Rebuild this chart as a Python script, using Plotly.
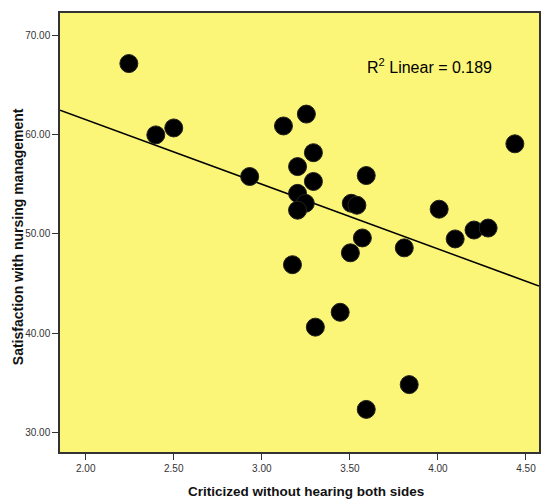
import numpy as np
import plotly.graph_objects as go

# Data
criticized = [2.245, 2.398, 2.500, 2.931, 3.123, 3.253, 3.203, 3.293, 3.293, 3.203,
              3.247, 3.203, 3.508, 3.540, 3.593, 3.174, 3.503, 3.571, 3.304, 3.445,
              3.809, 4.007, 4.098, 4.205, 4.285, 4.437, 3.837, 3.593]
satisfaction = [67.2, 60.0, 60.7, 55.8, 60.9, 62.1, 56.8, 58.2, 55.3, 54.1,
                53.1, 52.4, 53.1, 52.9, 55.9, 46.9, 48.1, 49.6, 40.6, 42.1,
                48.6, 52.5, 49.5, 50.4, 50.6, 59.1, 34.8, 32.3]
x_ticks = [2.0, 2.5, 3.0, 3.5, 4.0, 4.5]
x_tick_labels = ["2.00", "2.50", "3.00", "3.50", "4.00", "4.50"]
y_ticks = [30, 40, 50, 60, 70]
y_tick_labels = ["30.00", "40.00", "50.00", "60.00", "70.00"]
r2_label = "R<sup>2</sup> Linear = 0.189"
x_title = "Criticized without hearing both sides"
y_title = "Satisfaction with nursing management"

x_range = [1.854, 4.574]
y_range = [28.0, 72.3]

slope, intercept = np.polyfit(criticized, satisfaction, 1)
line_x = np.array(x_range)
line_y = slope * line_x + intercept

W, H = 542, 502
ML, MR, MT, MB = 60, 1, 13, 50
plot_w = W - ML - MR
plot_h = H - MT - MB

fig = go.Figure()
fig.add_trace(go.Scatter(x=line_x, y=line_y, mode="lines",
                         line=dict(color="black", width=1.5),
                         hoverinfo="skip", showlegend=False))
fig.add_trace(go.Scatter(x=criticized, y=satisfaction, mode="markers",
                         marker=dict(color="black", size=18,
                                     line=dict(color="#222", width=1)),
                         showlegend=False))

fig.update_layout(
    width=W, height=H,
    margin=dict(l=ML, r=MR, t=MT, b=MB),
    paper_bgcolor="white",
    plot_bgcolor="#FCF678",
    font=dict(family="Liberation Sans, Arial, sans-serif", color="#222"),
    xaxis=dict(range=x_range, tickvals=x_ticks, ticktext=x_tick_labels,
               showgrid=False, zeroline=False, showline=True, linecolor="#333",
               linewidth=1.5, mirror=True, ticks="outside", ticklen=6,
               tickcolor="#333", tickfont=dict(size=10, color="#333")),
    yaxis=dict(range=y_range, tickvals=y_ticks, ticktext=y_tick_labels,
               showgrid=False, zeroline=False, showline=True, linecolor="#333",
               linewidth=1.5, mirror=True, ticks="outside", ticklen=6,
               tickcolor="#333", tickfont=dict(size=10, color="#333")),
    annotations=[
        dict(text=r2_label, x=(366 - ML) / plot_w, y=1 - (66 - MT) / plot_h,
             xref="paper", yref="paper",
             xanchor="left", yanchor="middle", showarrow=False,
             font=dict(size=16, color="black")),
        dict(text="<b>" + x_title + "</b>", x=(307 - ML) / plot_w,
             y=-(492 - (MT + plot_h)) / plot_h, xref="paper", yref="paper",
             xanchor="center", yanchor="middle",
             showarrow=False, font=dict(size=13.5, color="#111")),
        dict(text="<b>" + y_title + "</b>", x=(18 - ML) / plot_w,
             y=1 - (237 - MT) / plot_h, xref="paper", yref="paper",
             xanchor="center", yanchor="middle",
             showarrow=False, textangle=-90, font=dict(size=14, color="#111")),
    ],
)

fig.write_html("out.html", config={"displayModeBar": False},
               post_script="document.body.style.margin='0';document.body.style.padding='0';")
